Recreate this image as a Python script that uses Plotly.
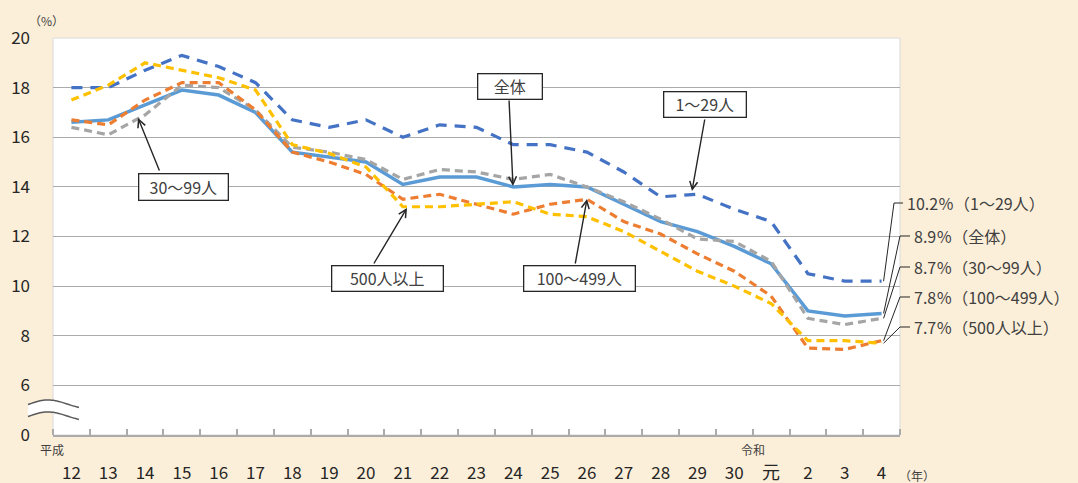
import math
import plotly.graph_objects as go

# ---- data -------------------------------------------------------------
years = ["12", "13", "14", "15", "16", "17", "18", "19", "20", "21", "22",
         "23", "24", "25", "26", "27", "28", "29", "30", "元", "2", "3", "4"]

rate_all = [16.6, 16.7, 17.3, 17.9, 17.7, 17.0, 15.4, 15.2, 15.0, 14.1, 14.4,
            14.4, 14.0, 14.1, 14.0, 13.3, 12.6, 12.2, 11.6, 10.9, 9.0, 8.8, 8.9]
rate_1_29 = [18.0, 18.0, 18.7, 19.3, 18.85, 18.2, 16.7, 16.4, 16.7, 16.0, 16.5,
             16.4, 15.7, 15.7, 15.4, 14.6, 13.6, 13.7, 13.1, 12.6, 10.5, 10.2, 10.2]
rate_30_99 = [16.4, 16.1, 16.9, 18.1, 18.0, 17.1, 15.6, 15.4, 15.1, 14.3, 14.7,
              14.6, 14.3, 14.5, 14.0, 13.4, 12.7, 11.9, 11.8, 11.0, 8.7, 8.45, 8.7]
rate_100_499 = [16.7, 16.5, 17.5, 18.2, 18.2, 17.1, 15.4, 15.0, 14.5, 13.5, 13.7,
                13.3, 12.9, 13.3, 13.5, 12.6, 12.1, 11.3, 10.6, 9.6, 7.5, 7.45, 7.8]
rate_500 = [17.5, 18.1, 19.0, 18.7, 18.4, 17.9, 15.7, 15.35, 14.8, 13.2, 13.2,
            13.3, 13.4, 12.9, 12.8, 12.2, 11.4, 10.6, 10.0, 9.3, 7.8, 7.8, 7.7]

y_tickvals = [4, 6, 8, 10, 12, 14, 16, 18, 20]
y_ticktext = ["0", "6", "8", "10", "12", "14", "16", "18", "20"]

# ---- layout geometry (pixels) -----------------------------------------
W, H = 1078, 483
PL, PR, PT, PB = 53, 900, 38, 435
Y_MIN, Y_MAX = 4, 20
N = len(years)

FONT = "Noto Sans CJK JP"
TXT = "#404040"
BG = "#FCEFD9"
GRID = "#ABABAB"


def px_x(px):
    return (px - PL) / (PR - PL)


def px_y(py):
    return (PB - py) / (PB - PT)


def idx_px(i):
    return PL + (i + 0.5) * (PR - PL) / N


def val_py(v):
    return PB - (v - Y_MIN) * (PB - PT) / (Y_MAX - Y_MIN)


fig = go.Figure()
xs = list(range(N))

series = [
    ("全体", rate_all, "#5B9BD5", "solid", 3.5),
    ("1～29人", rate_1_29, "#4472C4", "11px,8px", 3.2),
    ("30～99人", rate_30_99, "#A5A5A5", "8px,5px", 3.2),
    ("100～499人", rate_100_499, "#ED7D31", "8px,5px", 3.2),
    ("500人以上", rate_500, "#FFC000", "8px,5px", 3.2),
]
for name, vals, color, dash, width in series:
    fig.add_trace(go.Scatter(
        x=xs, y=vals, mode="lines", name=name,
        line=dict(color=color, dash=dash, width=width),
        hoverinfo="skip", showlegend=False))

shapes = []
annotations = []

# plot area frame
shapes.append(dict(type="rect", xref="paper", yref="paper", x0=0, x1=1, y0=0, y1=1,
                   line=dict(color="#D9D9D9", width=1), layer="below"))


# axis break mark: two tilde curves with a white band between them
def wave(x0, x1, yc, amp, n=30):
    pts = []
    for k in range(n + 1):
        t = k / n
        x = x0 + (x1 - x0) * t
        y = yc - amp * math.sin(math.pi * (t * 1.3 - 0.15)) * (1 - t * 0.6) + amp * 0.8 * t
        pts.append((x, y))
    return pts


top = wave(28, 79, 402, 5.5)
bot = wave(28, 79, 414, 5.5)
fill_pts = top + bot[::-1]
path = "M " + " L ".join(f"{px_x(x):.5f},{px_y(y):.5f}" for x, y in fill_pts) + " Z"
shapes.append(dict(type="path", xref="paper", yref="paper", path=path,
                   fillcolor="white", line=dict(width=0), layer="above"))
for curve in (top, bot):
    p = "M " + " L ".join(f"{px_x(x):.5f},{px_y(y):.5f}" for x, y in curve)
    shapes.append(dict(type="path", xref="paper", yref="paper", path=p,
                       line=dict(color="#595959", width=1.5), layer="above"))

# callout boxes with arrows: (text, box centre, box w, box h, arrow tail, arrow tip)
callouts = [
    ("30～99人", (183, 186.5), 90, 27, (160, 172), (138, 118)),
    ("全体", (509.5, 86), 65, 26, (509, 99), (513, 186)),
    ("1～29人", (704.5, 105), 83, 26, (705, 118), (692, 191)),
    ("500人以上", (387, 278), 112, 26, (373, 265), (407, 208)),
    ("100～499人", (579, 278), 112, 26, (575, 265), (587, 199)),
]
for text, (cx, cy), bw, bh, (tx, ty), (hx, hy) in callouts:
    annotations.append(dict(
        x=px_x(hx), y=px_y(hy), xref="paper", yref="paper", text="",
        showarrow=True, ax=tx - hx, ay=ty - hy, axref="pixel", ayref="pixel",
        arrowhead=5, arrowsize=1.1, arrowwidth=1.4, arrowcolor="#262626"))
    annotations.append(dict(
        x=px_x(cx), y=px_y(cy), xref="paper", yref="paper", text=text,
        showarrow=False, xanchor="center", yanchor="middle",
        width=bw - 4, height=bh - 4, borderpad=1,
        bgcolor="white", bordercolor="#262626", borderwidth=1.3,
        font=dict(family=FONT, size=16, color=TXT)))

# end-of-series labels with leader lines
end_labels = [
    (rate_1_29[-1], "1～29人", 203, 894, 903, 905),
    (rate_all[-1], "全体", 236, 900, 910, 912),
    (rate_30_99[-1], "30～99人", 267, 900, 910, 912),
    (rate_100_499[-1], "100～499人", 297, 900, 910, 912),
    (rate_500[-1], "500人以上", 327, 900, 910, 912),
]
x_last = idx_px(N - 1) + 2
for val, grp, ly, kx, ex, tx in end_labels:
    y0 = val_py(val)
    p = (f"M {px_x(x_last):.5f},{px_y(y0):.5f} L {px_x(kx):.5f},{px_y(ly):.5f} "
         f"L {px_x(ex):.5f},{px_y(ly):.5f}")
    shapes.append(dict(type="path", xref="paper", yref="paper", path=p,
                       line=dict(color="#262626", width=1)))
    annotations.append(dict(
        x=px_x(tx), y=px_y(ly), xref="paper", yref="paper",
        text=f"{val:.1f}％（{grp}）", showarrow=False,
        xanchor="left", yanchor="middle",
        font=dict(family=FONT, size=16, color=TXT)))

# era markers, units
annotations += [
    dict(x=px_x(52), y=px_y(449), xref="paper", yref="paper", text="平成",
         showarrow=False, xanchor="center", yanchor="middle",
         font=dict(family=FONT, size=12, color=TXT)),
    dict(x=px_x(753), y=px_y(449), xref="paper", yref="paper", text="令和",
         showarrow=False, xanchor="center", yanchor="middle",
         font=dict(family=FONT, size=12, color=TXT)),
    dict(x=px_x(46), y=px_y(21), xref="paper", yref="paper", text="（%）",
         showarrow=False, xanchor="center", yanchor="middle",
         font=dict(family=FONT, size=12, color=TXT)),
    dict(x=px_x(897), y=px_y(475), xref="paper", yref="paper", text="（年）",
         showarrow=False, xanchor="left", yanchor="middle",
         font=dict(family=FONT, size=12, color=TXT)),
]

x_ticktext = [("<span style='font-size:18px'>元</span>" if y == "元" else y)
              for y in years]

fig.update_layout(
    width=W, height=H,
    margin=dict(l=PL, r=W - PR, t=PT, b=H - PB),
    paper_bgcolor=BG, plot_bgcolor="white",
    font=dict(family=FONT, color=TXT),
    shapes=shapes, annotations=annotations,
    xaxis=dict(
        range=[-0.5, N - 0.5], tickmode="array", tickvals=xs, ticktext=x_ticktext,
        ticks="", showgrid=False, zeroline=False, automargin=False,
        showline=True, linecolor=GRID, linewidth=1.5,
        tickfont=dict(family=FONT, size=17, color="#262626"),
        ticklabelstandoff=22,
        minor=dict(tickmode="array", tickvals=[i - 0.5 for i in range(N + 1)],
                   ticks="inside", ticklen=6, tickcolor=GRID, tickwidth=1.5,
                   showgrid=False),
    ),
    yaxis=dict(
        range=[Y_MIN, Y_MAX], tickmode="array", tickvals=y_tickvals,
        ticktext=y_ticktext, ticks="", showgrid=True, gridcolor=GRID,
        gridwidth=1.3, zeroline=False, showline=False, automargin=False,
        tickfont=dict(family=FONT, size=17, color="#262626"),
        ticklabelstandoff=22,
    ),
)

fig.write_html("out.html")
